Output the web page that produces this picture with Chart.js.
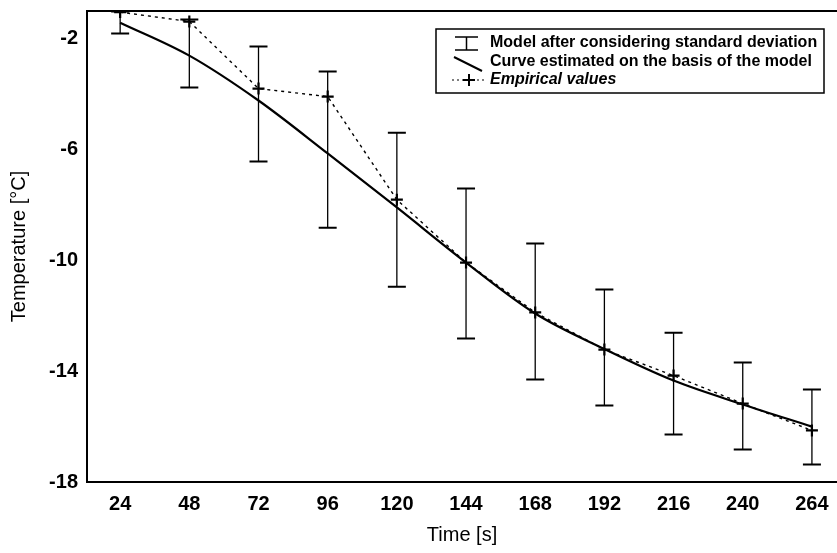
<!DOCTYPE html>
<html>
<head>
<meta charset="utf-8">
<script src="https://cdn.jsdelivr.net/npm/chart.js@4/dist/chart.umd.min.js"></script>
<style>
html,body{margin:0;padding:0;background:#fff;}
#wrap{width:837px;height:553px;}
</style>
</head>
<body>
<div id="wrap"><canvas id="c" width="837" height="553"></canvas></div>
<script>
// ---- data ----
const times = [24, 48, 72, 96, 120, 144, 168, 192, 216, 240, 264];
const modelCurve = [-1.42, -2.61, -4.23, -6.14, -8.09, -10.08, -11.92, -13.2, -14.34, -15.2, -16.0];
const empirical = [-1.04, -1.38, -3.80, -4.09, -7.81, -10.08, -11.88, -13.22, -14.16, -15.17, -16.14];
const sdUpper = [-1.02, -1.31, -2.28, -3.18, -5.39, -7.41, -9.39, -11.05, -12.61, -13.69, -14.66];
const sdLower = [-1.81, -3.76, -6.43, -8.82, -10.95, -12.82, -14.30, -15.24, -16.29, -16.83, -17.37];
const xTicks = [24, 48, 72, 96, 120, 144, 168, 192, 216, 240, 264];
const yTicks = [-18, -14, -10, -6, -2];
const legendLabels = ['Model after considering standard deviation', 'Curve estimated on the basis of the model', 'Empirical values'];
const xTitle = 'Time [s]';
const yTitle = 'Temperature [\u00B0C]';

const FONT = '"Liberation Sans", Arial, sans-serif';

const errorBarPlugin = {
  id: 'errorBars',
  beforeDatasetsDraw(chart) {
    const {ctx, scales: {x, y}} = chart;
    ctx.save();
    ctx.strokeStyle = '#000';
    for (let i = 0; i < times.length; i++) {
      const px = x.getPixelForValue(times[i]);
      const yt = y.getPixelForValue(sdUpper[i]);
      const yb = y.getPixelForValue(sdLower[i]);
      ctx.lineWidth = 1.3;
      ctx.beginPath(); ctx.moveTo(px, yt); ctx.lineTo(px, yb); ctx.stroke();
      ctx.lineWidth = 2;
      ctx.beginPath();
      ctx.moveTo(px - 9, yt); ctx.lineTo(px + 9, yt);
      ctx.moveTo(px - 9, yb); ctx.lineTo(px + 9, yb);
      ctx.stroke();
    }
    ctx.restore();
  }
};

const framePlugin = {
  id: 'frame',
  afterDraw(chart) {
    const {ctx, chartArea: a} = chart;
    ctx.save();
    ctx.strokeStyle = '#000';
    ctx.lineWidth = 2;
    ctx.beginPath(); ctx.moveTo(a.left, a.top); ctx.lineTo(a.right, a.top); ctx.stroke();
    // legend box
    const bx = 436, by = 29, bw = 388, bh = 64;
    ctx.fillStyle = '#fff';
    ctx.fillRect(bx, by, bw, bh);
    ctx.lineWidth = 1.5;
    ctx.strokeRect(bx, by, bw, bh);
    const rows = [43, 61.5, 80];
    // symbol 1: error bar
    ctx.lineWidth = 1.5;
    ctx.beginPath();
    ctx.moveTo(455, 37); ctx.lineTo(478, 37);
    ctx.moveTo(455, 50); ctx.lineTo(478, 50);
    ctx.moveTo(466.5, 37); ctx.lineTo(466.5, 50);
    ctx.stroke();
    // symbol 2: diagonal solid line
    ctx.lineWidth = 2;
    ctx.beginPath(); ctx.moveTo(454, 57); ctx.lineTo(482, 71); ctx.stroke();
    // symbol 3: dotted line with cross
    ctx.lineWidth = 1.2;
    ctx.setLineDash([2, 3]);
    ctx.beginPath(); ctx.moveTo(452, 80); ctx.lineTo(486, 80); ctx.stroke();
    ctx.setLineDash([]);
    ctx.lineWidth = 2;
    ctx.beginPath(); ctx.moveTo(463, 80); ctx.lineTo(475, 80); ctx.moveTo(469, 74); ctx.lineTo(469, 86); ctx.stroke();
    ctx.fillStyle = '#000';
    ctx.textBaseline = 'middle';
    ctx.textAlign = 'left';
    ctx.font = 'bold 16px ' + FONT;
    ctx.fillText(legendLabels[0], 490, rows[0]);
    ctx.fillText(legendLabels[1], 490, rows[1]);
    ctx.font = 'italic bold 16px ' + FONT;
    ctx.fillText(legendLabels[2], 490, rows[2]);
    ctx.restore();
  }
};

new Chart(document.getElementById('c'), {
  type: 'line',
  data: {
    datasets: [
      {
        label: legendLabels[1],
        data: times.map((t, i) => ({x: t, y: modelCurve[i]})),
        borderColor: '#000',
        borderWidth: 2.2,
        pointRadius: 0,
        cubicInterpolationMode: 'monotone',
        fill: false
      },
      {
        label: legendLabels[2],
        data: times.map((t, i) => ({x: t, y: empirical[i]})),
        borderColor: '#000',
        backgroundColor: '#000',
        borderWidth: 1.4,
        borderDash: [3, 4],
        pointStyle: 'cross',
        pointRadius: 6,
        pointBorderWidth: 2.2,
        tension: 0,
        fill: false
      }
    ]
  },
  options: {
    responsive: false,
    animation: false,
    layout: {autoPadding: false, padding: {top: 11, right: 0, left: 0, bottom: 0}},
    plugins: {legend: {display: false}, tooltip: {enabled: false}},
    scales: {
      x: {
        type: 'linear',
        min: 12.5,
        max: 272.7,
        afterBuildTicks: s => { s.ticks = xTicks.map(v => ({value: v})); },
        afterFit: s => { s.height = 71; s.paddingLeft = 0; s.paddingRight = 0; },
        grid: {display: false, drawTicks: false},
        border: {display: true, color: '#000', width: 2},
        ticks: {color: '#000', padding: 10, maxRotation: 0, font: {family: FONT, size: 20, weight: 'bold'}},
        title: {display: true, text: xTitle, color: '#000', padding: {top: 0, bottom: 6}, font: {family: FONT, size: 20}}
      },
      y: {
        type: 'linear',
        min: -18,
        max: -1,
        afterBuildTicks: s => { s.ticks = yTicks.map(v => ({value: v})); },
        afterFit: s => { s.width = 87; s.paddingTop = 0; s.paddingBottom = 0; },
        grid: {display: false, drawTicks: false},
        border: {display: true, color: '#000', width: 2},
        ticks: {color: '#000', padding: 9, font: {family: FONT, size: 20, weight: 'bold'}},
        title: {display: true, text: yTitle, color: '#000', padding: {top: 7, bottom: 0}, font: {family: FONT, size: 20}}
      }
    }
  },
  plugins: [errorBarPlugin, framePlugin]
});
</script>
</body>
</html>
